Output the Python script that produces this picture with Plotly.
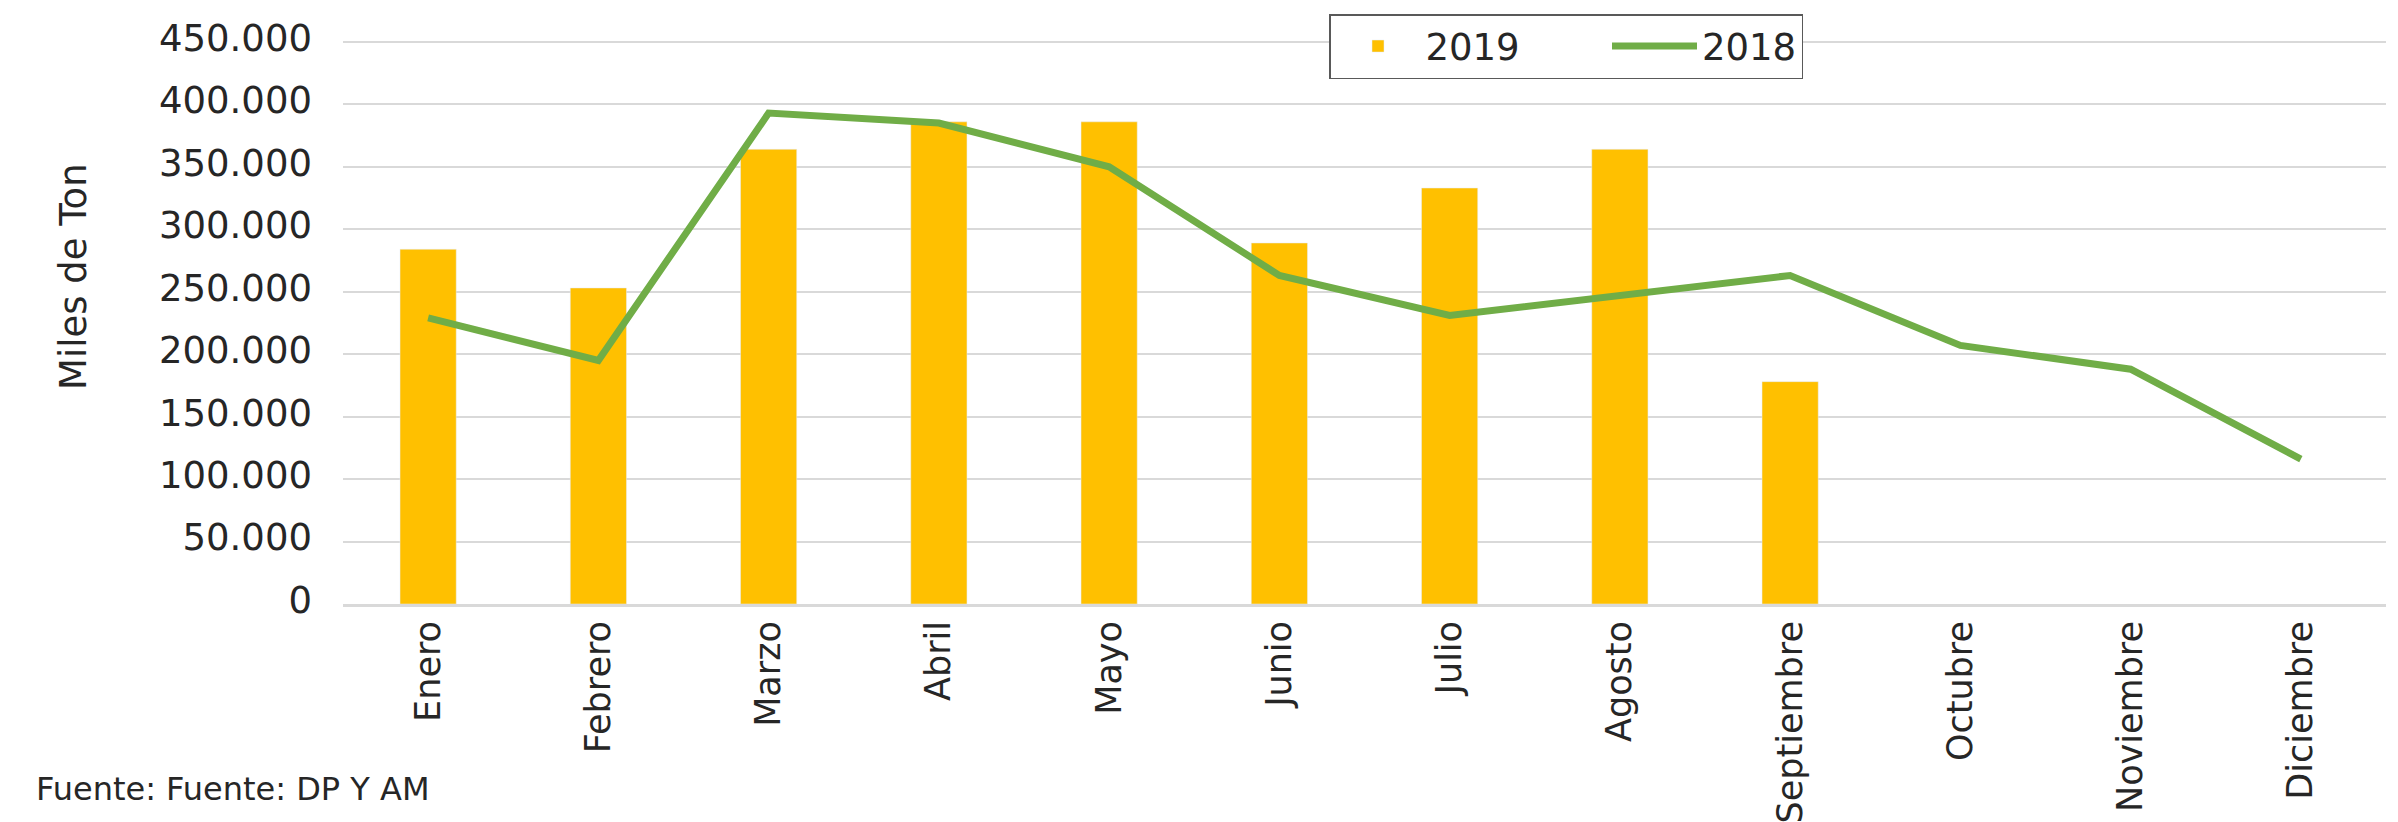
import plotly.graph_objects as go

months = ["Enero", "Febrero", "Marzo", "Abril", "Mayo", "Junio", "Julio",
          "Agosto", "Septiembre", "Octubre", "Noviembre", "Diciembre"]
vals_2019 = [284000, 253000, 364000, 386000, 386000, 289000, 333000, 364000, 178000,
             None, None, None]
vals_2018 = [229000, 195000, 393000, 385000, 350000, 263000, 231000, 247000, 263000,
             207000, 188000, 116000]
y_ticks = [0, 50000, 100000, 150000, 200000, 250000, 300000, 350000, 400000, 450000]

FONT = "DejaVu Sans"
TXT = "#262626"
NB = "\u00a0"

W, H = 2398, 822
L, R, T, B = 343, 12, 40, 218
pw, ph = W - L - R, H - T - B
y0 = H - B  # pixel row of the x axis

fig = go.Figure()
fig.add_trace(go.Bar(x=months, y=vals_2019, name="2019" + NB * 7, marker_color="#FFC000",
                     width=0.33))
fig.add_trace(go.Scatter(x=months, y=vals_2018, name="2018", mode="lines",
                         line=dict(color="#70AD47", width=7)))

fig.update_layout(
    width=W, height=H,
    margin=dict(l=L, r=R, t=T, b=B, autoexpand=False),
    paper_bgcolor="white", plot_bgcolor="white",
    separators=",.",
    font=dict(family=FONT, size=36, color=TXT),
    showlegend=True,
    legend=dict(orientation="h", x=(1329 - L) / pw, xanchor="left",
                y=1 + (T - 14) / ph, yanchor="top",
                bordercolor="#595959", borderwidth=1.5,
                font=dict(family=FONT, size=37, color=TXT),
                itemwidth=85, traceorder="normal",
                bgcolor="white"),
    xaxis=dict(tickangle=-90, showgrid=False, showline=True, linecolor="#D9D9D9",
               linewidth=3, automargin=False,
               tickfont=dict(family=FONT, size=35, color=TXT)),
    yaxis=dict(range=[0, 451500], tickvals=y_ticks, tickformat=",d",
               showgrid=True, gridcolor="#D9D9D9", gridwidth=2, automargin=False,
               zeroline=False, ticklabelstandoff=30, ticklabelshift=-4,
               tickfont=dict(family=FONT, size=37, color=TXT)),
    annotations=[
        dict(text="Miles de Ton", xref="paper", yref="paper",
             x=(73 - L) / pw, y=(y0 - 277) / ph, xanchor="center", yanchor="middle",
             textangle=-90, showarrow=False, font=dict(family=FONT, size=37, color=TXT)),
        dict(text="Fuente: Fuente: DP Y AM", xref="paper", yref="paper",
             x=(34 - L) / pw, y=(y0 - 789) / ph, xanchor="left", yanchor="middle",
             showarrow=False, font=dict(family=FONT, size=32, color=TXT)),
    ],
)

fig.write_html("out.html", config={"displayModeBar": False},
               post_script="document.body.style.margin='0';")
